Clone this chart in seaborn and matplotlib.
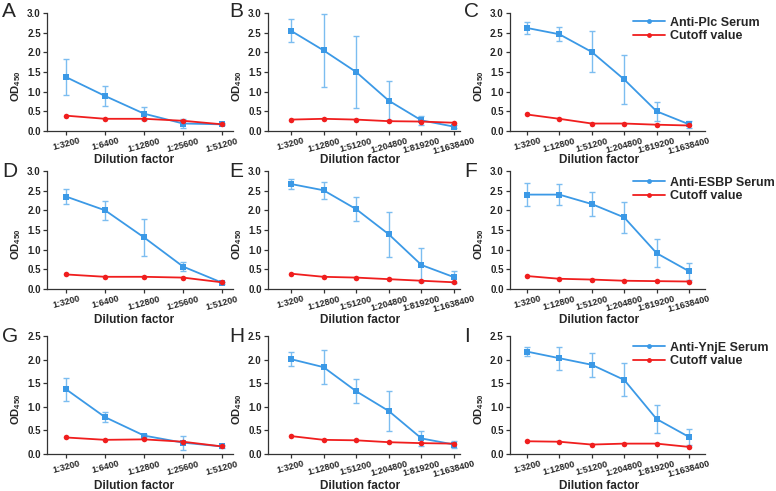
import numpy as np
import pandas as pd
import matplotlib
matplotlib.use("Agg")
import matplotlib.pyplot as plt
from matplotlib.lines import Line2D
import seaborn as sns

# ---------------- data ----------------
dil5 = ["1:3200", "1:6400", "1:12800", "1:25600", "1:51200"]
dil6 = ["1:3200", "1:12800", "1:51200", "1:204800", "1:819200", "1:1638400"]

A_serum = [1.37, 0.89, 0.44, 0.19, 0.17]
A_sd = [0.46, 0.25, 0.16, 0.12, 0.03]
A_cut = [0.39, 0.31, 0.31, 0.26, 0.17]

B_serum = [2.55, 2.05, 1.50, 0.77, 0.27, 0.11]
B_sd = [0.29, 0.92, 0.92, 0.49, 0.12, 0.03]
B_cut = [0.29, 0.31, 0.29, 0.25, 0.24, 0.21]

C_serum = [2.62, 2.46, 2.01, 1.31, 0.50, 0.17]
C_sd = [0.15, 0.18, 0.52, 0.63, 0.24, 0.09]
C_cut = [0.42, 0.31, 0.19, 0.19, 0.16, 0.14]

D_serum = [2.35, 2.00, 1.31, 0.57, 0.16]
D_sd = [0.18, 0.25, 0.46, 0.12, 0.03]
D_cut = [0.37, 0.31, 0.31, 0.29, 0.17]

E_serum = [2.67, 2.51, 2.03, 1.39, 0.61, 0.30]
E_sd = [0.13, 0.21, 0.30, 0.58, 0.42, 0.16]
E_cut = [0.39, 0.31, 0.29, 0.25, 0.21, 0.17]

F_serum = [2.40, 2.40, 2.16, 1.82, 0.91, 0.45]
F_sd = [0.30, 0.26, 0.31, 0.40, 0.36, 0.21]
F_cut = [0.33, 0.26, 0.24, 0.21, 0.20, 0.19]

G_serum = [1.37, 0.78, 0.39, 0.24, 0.16]
G_sd = [0.25, 0.11, 0.03, 0.15, 0.03]
G_cut = [0.35, 0.30, 0.31, 0.26, 0.16]

H_serum = [2.01, 1.84, 1.33, 0.91, 0.33, 0.20]
H_sd = [0.15, 0.36, 0.25, 0.43, 0.15, 0.08]
H_cut = [0.38, 0.30, 0.29, 0.25, 0.23, 0.22]

I_serum = [2.17, 2.03, 1.89, 1.57, 0.74, 0.36]
I_sd = [0.09, 0.24, 0.26, 0.35, 0.30, 0.16]
I_cut = [0.27, 0.26, 0.20, 0.22, 0.22, 0.15]

letters = ["A", "B", "C", "D", "E", "F", "G", "H", "I"]
serums = [A_serum, B_serum, C_serum, D_serum, E_serum, F_serum, G_serum, H_serum, I_serum]
sds = [A_sd, B_sd, C_sd, D_sd, E_sd, F_sd, G_sd, H_sd, I_sd]
cuts = [A_cut, B_cut, C_cut, D_cut, E_cut, F_cut, G_cut, H_cut, I_cut]
legend_names = ["Anti-Plc Serum", "Anti-ESBP Serum", "Anti-YnjE Serum"]

# ---------------- style ----------------
sns.set_theme(style="ticks")
plt.rcParams["font.family"] = ["Liberation Sans", "DejaVu Sans"]
plt.rcParams["font.weight"] = "bold"
plt.rcParams["mathtext.fontset"] = "custom"
plt.rcParams["mathtext.bf"] = "Liberation Sans:bold"
plt.rcParams["mathtext.rm"] = "Liberation Sans"

BLUE = "#3B99E6"
EBLUE = "#7CBDF0"
RED = "#F01E1E"

W, H = 776, 491
fig = plt.figure(figsize=(W / 100, H / 100), dpi=100)

col_left = [47, 268, 510]
col_right = [233, 460, 705]
row_top = [13, 171, 336]
row_bot = [131, 289, 454]
col_xlim = [(-0.49, 4.28), (-0.70, 5.18), (-0.52, 5.49)]
letter_x = [2, 229, 464]
letter_y = [2, 162, 327]
xlab_center = [134, 360, 599]
xlab_off = [29, 31, 32]

for i in range(9):
    r, c = divmod(i, 3)
    l, rt, t, b = col_left[c], col_right[c], row_top[r], row_bot[r]
    ax = fig.add_axes([l / W, 1 - b / H, (rt - l) / W, (b - t) / H])
    labels = dil5 if c == 0 else dil6
    xs = np.arange(len(labels))
    df = pd.DataFrame({
        "x": np.concatenate([xs, xs]),
        "y": np.concatenate([serums[i], cuts[i]]),
        "series": ["serum"] * len(xs) + ["cutoff"] * len(xs),
    })
    ax.errorbar(xs, serums[i], yerr=sds[i], fmt="none", ecolor=EBLUE,
                elinewidth=1.0, capsize=2.2, capthick=1.0, zorder=1)
    sns.lineplot(data=df, x="x", y="y", hue="series", style="series",
                 palette={"serum": BLUE, "cutoff": RED},
                 markers={"serum": "s", "cutoff": "o"}, dashes=False,
                 markersize=4, markeredgewidth=0, linewidth=1.3,
                 legend=False, ax=ax, zorder=3)
    ymax = 3.0 if r < 2 else 2.5
    yt = np.arange(0, ymax + 0.01, 0.5)
    ax.set_ylim(0, ymax)
    ax.set_yticks(yt)
    ax.set_yticklabels([f"{v:.1f}" for v in yt])
    ax.set_xlim(*col_xlim[c])
    ax.set_xticks(xs)
    ax.set_xticklabels(labels, rotation=15, ha="center")
    ax.tick_params(axis="y", labelsize=7, length=3, width=0.9, pad=1.5, color="#333333")
    ax.tick_params(axis="x", labelsize=6.5, length=3, width=0.9, pad=0.8, color="#333333")
    for tl in ax.get_xticklabels() + ax.get_yticklabels():
        tl.set_fontweight("bold")
    for s in ["top", "right"]:
        ax.spines[s].set_visible(False)
    for s in ["left", "bottom"]:
        ax.spines[s].set_linewidth(0.9)
        ax.spines[s].set_color("#333333")
    ax.set_xlabel("Dilution factor", fontsize=8.5, fontweight="bold", va="center")
    ax.xaxis.set_label_coords((xlab_center[c] - l) / (rt - l), -xlab_off[r] / (b - t))
    ax.set_ylabel(r"$\mathbf{OD}_{\mathbf{450}}$", fontsize=8)
    ax.yaxis.set_label_coords(-24 / (rt - l), (b - 86 + 13 - t) / (b - t))
    ax.grid(False)
    fig.text(letter_x[c] / W, 1 - letter_y[r] / H, letters[i], fontsize=15,
             fontweight="normal", va="top", ha="left")
    if c == 2:
        handles = [
            Line2D([], [], color=BLUE, marker="o", markersize=3.5, markeredgewidth=0, lw=1.3),
            Line2D([], [], color=RED, marker="o", markersize=3.5, markeredgewidth=0, lw=1.3),
        ]
        leg_top = [8, 168, 333][r]
        fig.legend(handles, [legend_names[r], "Cutoff value"], loc="upper left",
                   bbox_to_anchor=(624 / W, 1 - leg_top / H), frameon=False,
                   handlelength=2.6, handletextpad=0.35,
                   labelspacing=0.1, borderpad=0.2, prop={"weight": "bold", "size": 9})

fig.savefig("out.png", dpi=100)
